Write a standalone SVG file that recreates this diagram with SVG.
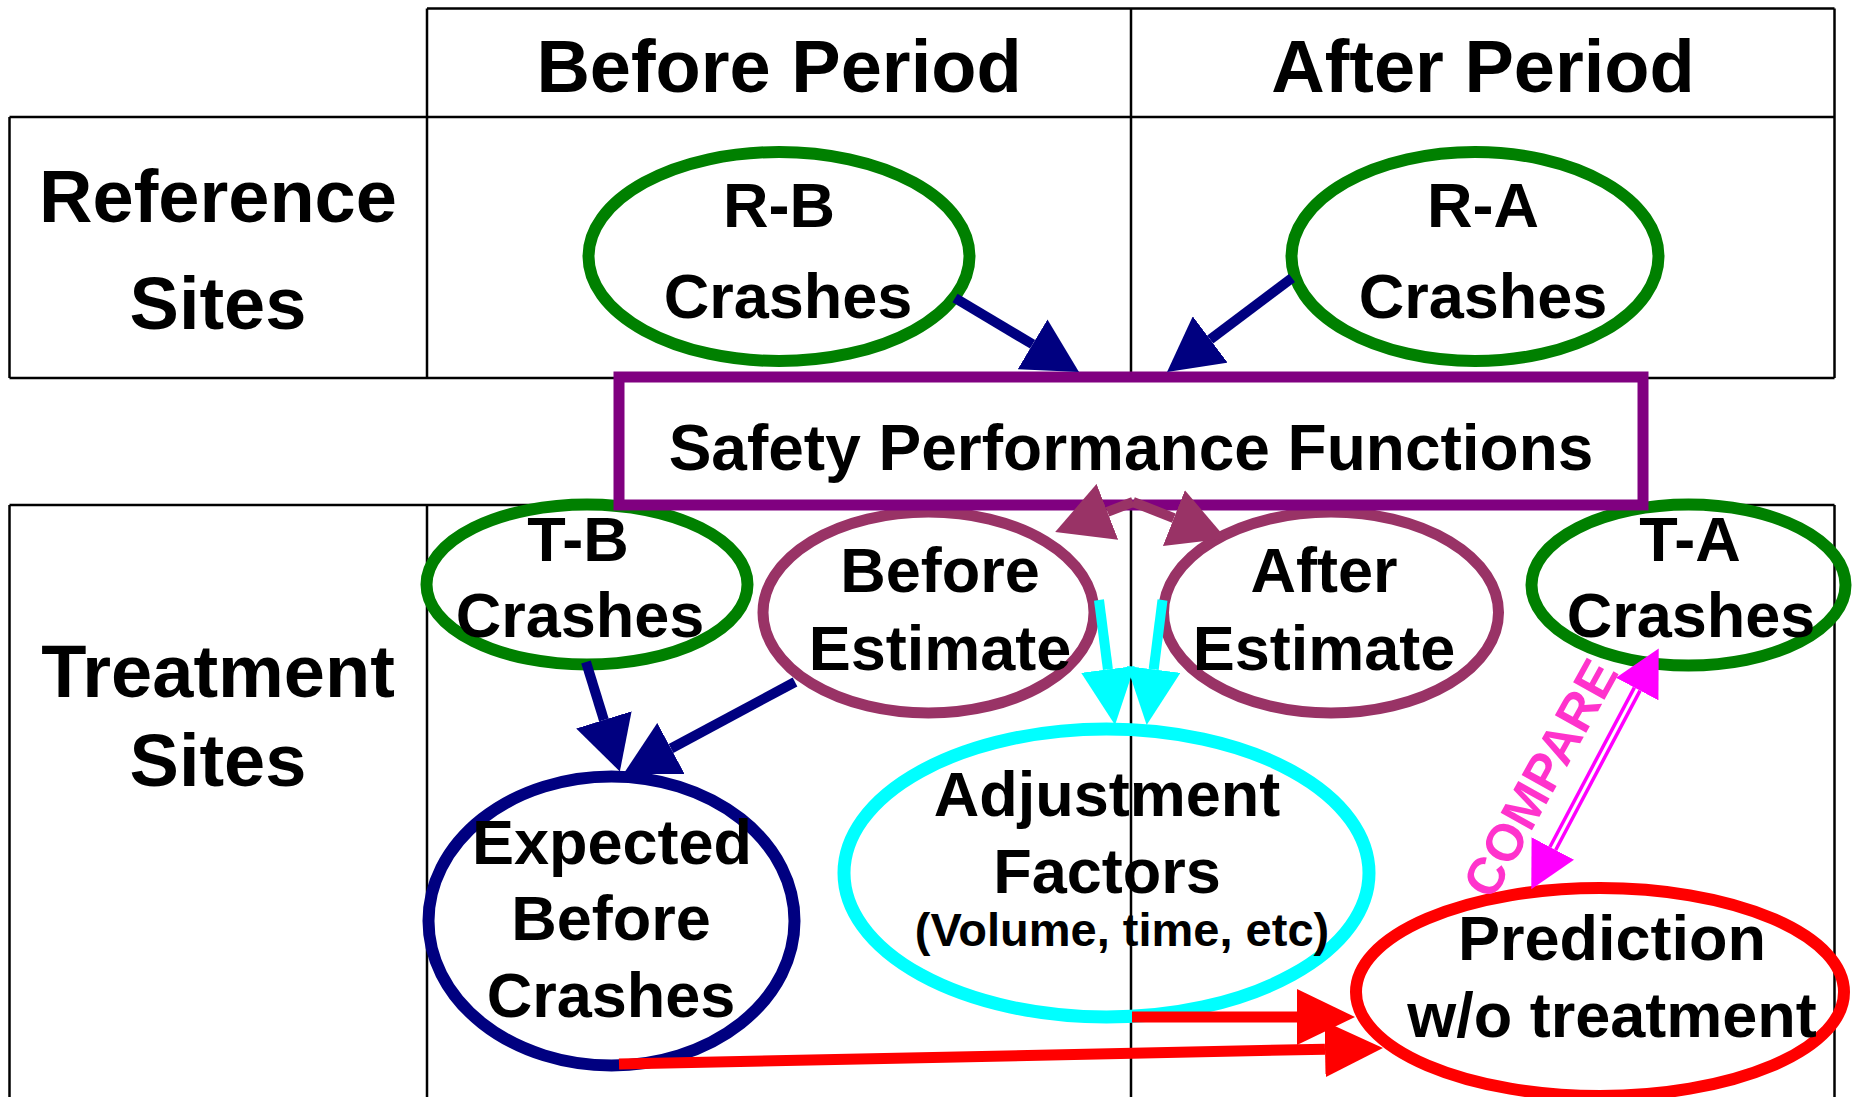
<svg xmlns="http://www.w3.org/2000/svg" width="1853" height="1097" viewBox="0 0 1853 1097">
  <style>
    text { font-family: "Liberation Sans", Arial, Helvetica, sans-serif; font-weight: bold; fill: #000; text-anchor: middle; }
    .hdr { font-size: 74px; }
    .lbl { font-size: 63px; }
    .spf { font-size: 64px; }
    .sub { font-size: 47px; }
    .compare { font-size: 52px; fill: #FF33CC; }
    .grid line { stroke: #000; stroke-width: 2.5; }
    ellipse { fill: none; }
    .green { stroke: #008000; stroke-width: 12; }
    .maroon { stroke: #993366; stroke-width: 11; }
    .cyan { stroke: #00FFFF; stroke-width: 13; }
    .navyE { stroke: #000080; stroke-width: 12; }
    .redE { stroke: #FF0000; stroke-width: 12; }
    .box { fill: #fff; stroke: #800080; stroke-width: 11; }
    .c-navy { stroke: #000080; stroke-width: 10; }
    .c-maroon { stroke: #993366; stroke-width: 10; }
    .c-cyan { stroke: #00FFFF; stroke-width: 10; }
    .c-red { stroke: #FF0000; stroke-width: 11; }
    .c-mag { stroke: #FF00FF; stroke-width: 10; }
    .c-gap { stroke: #fff; stroke-width: 3; }
  </style>
  <defs>
    <marker id="hNavy" markerUnits="userSpaceOnUse" markerWidth="54" markerHeight="58" viewBox="0 -29 54 58" refX="0" refY="0" orient="auto">
      <path d="M0,-29 L54,0 L0,29 Z" fill="#000080"/>
    </marker>
    <marker id="hMaroon" markerUnits="userSpaceOnUse" markerWidth="56" markerHeight="60" viewBox="0 -30 56 60" refX="0" refY="0" orient="auto">
      <path d="M0,-30 L56,0 L0,30 Z" fill="#993366"/>
    </marker>
    <marker id="hCyan" markerUnits="userSpaceOnUse" markerWidth="56" markerHeight="54" viewBox="0 -27 56 54" refX="0" refY="0" orient="auto">
      <path d="M0,-27 L56,0 L0,27 Z" fill="#00FFFF"/>
    </marker>
    <marker id="hRed" markerUnits="userSpaceOnUse" markerWidth="58" markerHeight="56" viewBox="0 -28 58 56" refX="0" refY="0" orient="auto">
      <path d="M0,-28 L58,0 L0,28 Z" fill="#FF0000"/>
    </marker>
    <marker id="hMag" markerUnits="userSpaceOnUse" markerWidth="46" markerHeight="48" viewBox="0 -24 46 48" refX="0" refY="0" orient="auto-start-reverse">
      <path d="M0,-24 L46,0 L0,24 Z" fill="#FF00FF"/>
    </marker>
  </defs>

  <!-- table grid -->
  <g id="table" class="grid">
    <line x1="427" y1="8.5" x2="1834.5" y2="8.5"/>
    <line x1="9.5" y1="117" x2="1834.5" y2="117"/>
    <line x1="9.5" y1="378" x2="1834.5" y2="378"/>
    <line x1="9.5" y1="505" x2="1834.5" y2="505"/>
    <line x1="427" y1="8.5" x2="427" y2="378"/>
    <line x1="1131" y1="8.5" x2="1131" y2="378"/>
    <line x1="1834.5" y1="8.5" x2="1834.5" y2="378"/>
    <line x1="9.5" y1="117" x2="9.5" y2="378"/>
    <line x1="9.5" y1="505" x2="9.5" y2="1097"/>
    <line x1="427" y1="505" x2="427" y2="1097"/>
    <line x1="1131" y1="505" x2="1131" y2="1097"/>
    <line x1="1834.5" y1="505" x2="1834.5" y2="1097"/>
  </g>

  <!-- row and column headings -->
  <g id="headings">
    <text class="hdr" x="779" y="92">Before Period</text>
    <text class="hdr" x="1483" y="92">After Period</text>
    <text class="hdr" x="218" y="222">Reference</text>
    <text class="hdr" x="218" y="329">Sites</text>
    <text class="hdr" x="218" y="697">Treatment</text>
    <text class="hdr" x="218" y="786">Sites</text>
  </g>

  <g id="node-rb">
    <ellipse class="green" cx="779" cy="256.5" rx="190.5" ry="104.5"/>
    <text class="lbl" x="779" y="227">R-B</text>
    <text class="lbl" x="788" y="318">Crashes</text>
  </g>

  <g id="node-ra">
    <ellipse class="green" cx="1475" cy="256.5" rx="183.5" ry="104.5"/>
    <text class="lbl" x="1483" y="227">R-A</text>
    <text class="lbl" x="1483" y="318">Crashes</text>
  </g>

  <g id="node-tb">
    <ellipse class="green" cx="587" cy="584.5" rx="160.5" ry="80"/>
    <text class="lbl" x="578" y="561">T-B</text>
    <text class="lbl" x="580" y="637">Crashes</text>
  </g>

  <g id="node-ta">
    <ellipse class="green" cx="1688.5" cy="585" rx="157" ry="80.5"/>
    <text class="lbl" x="1690" y="561">T-A</text>
    <text class="lbl" x="1691" y="637">Crashes</text>
  </g>

  <g id="node-before-estimate">
    <ellipse class="maroon" cx="928.5" cy="612.5" rx="165.5" ry="100.5"/>
    <text class="lbl" x="940" y="592">Before</text>
    <text class="lbl" x="940" y="670">Estimate</text>
  </g>

  <g id="node-after-estimate">
    <ellipse class="maroon" cx="1331" cy="612.5" rx="167.5" ry="100.5"/>
    <text class="lbl" x="1324" y="592">After</text>
    <text class="lbl" x="1324" y="670">Estimate</text>
  </g>

  <g id="node-adjustment">
    <ellipse class="cyan" cx="1106.5" cy="873" rx="262.5" ry="144"/>
    <text class="lbl" x="1107" y="816">Adjustment</text>
    <text class="lbl" x="1107" y="893">Factors</text>
    <text class="sub" x="1122" y="946">(Volume, time, etc)</text>
  </g>

  <g id="node-expected">
    <ellipse class="navyE" cx="611.5" cy="921" rx="183" ry="144.5"/>
    <text class="lbl" x="612" y="864">Expected</text>
    <text class="lbl" x="611" y="940">Before</text>
    <text class="lbl" x="611" y="1017">Crashes</text>
  </g>

  <g id="node-prediction">
    <ellipse class="redE" cx="1600" cy="992" rx="244" ry="104"/>
    <text class="lbl" x="1612" y="960">Prediction</text>
    <text class="lbl" x="1612" y="1037">w/o treatment</text>
  </g>

  <g id="node-spf">
    <rect class="box" x="619" y="377" width="1024" height="128"/>
    <text class="spf" x="1131" y="470">Safety Performance Functions</text>
  </g>

  <!-- connectors -->
  <g id="connectors" fill="none">
    <line class="c-navy" x1="955" y1="298" x2="1032.6" y2="344.3" marker-end="url(#hNavy)"/>
    <line class="c-navy" x1="1292" y1="278" x2="1210.2" y2="339.5" marker-end="url(#hNavy)"/>
    <line class="c-maroon" x1="1133" y1="502" x2="1107.4" y2="511.9" marker-end="url(#hMaroon)"/>
    <line class="c-maroon" x1="1133" y1="502" x2="1173.9" y2="518.1" marker-end="url(#hMaroon)"/>
    <line class="c-cyan" x1="1099" y1="600" x2="1107.9" y2="669.4" marker-end="url(#hCyan)"/>
    <line class="c-cyan" x1="1162.5" y1="600" x2="1153.7" y2="669.4" marker-end="url(#hCyan)"/>
    <line class="c-navy" x1="586" y1="662" x2="603.9" y2="719.9" marker-end="url(#hNavy)"/>
    <line class="c-navy" x1="795" y1="682" x2="671" y2="748.5" marker-end="url(#hNavy)"/>
    <line class="c-red" x1="1132" y1="1017" x2="1297" y2="1017" marker-end="url(#hRed)"/>
    <line class="c-red" x1="619" y1="1064" x2="1325" y2="1049.2" marker-end="url(#hRed)"/>
    <line class="c-mag" x1="1552.8" y1="848.5" x2="1637.2" y2="689.1" marker-start="url(#hMag)" marker-end="url(#hMag)"/>
    <line class="c-gap" x1="1552.8" y1="848.5" x2="1637.2" y2="689.1"/>
    <text class="compare" transform="translate(1556,787) rotate(-61)">COMPARE</text>
  </g>
</svg>
